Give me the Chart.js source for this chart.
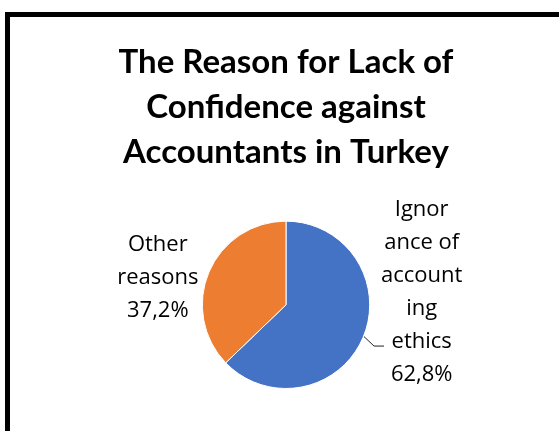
<!DOCTYPE html>
<html>
<head>
<meta charset="utf-8">
<script src="https://cdn.jsdelivr.net/npm/chart.js@4.4.0/dist/chart.umd.min.js"></script>
<style>
  html, body { margin: 0; padding: 0; width: 559px; height: 431px; overflow: hidden; background: #fff; }
  #frame { position: absolute; left: 5px; top: 12px; width: 620px; height: 520px; border: 5px solid #000; box-sizing: border-box; }
  #wrap { position: absolute; left: 0; top: 0; width: 559px; height: 431px; }
</style>
</head>
<body>
<div id="frame"></div>
<div id="wrap"><canvas id="c" width="559" height="431"></canvas></div>
<script>
// ---- data ----
const categories = ["Ignorance of accounting ethics", "Other reasons"];
const values = [62.8, 37.2];
const labelLines = [["Ignor", "ance of", "account", "ing", "ethics"], ["Other", "reasons"]];
const titleLines = ["The Reason for Lack of", "Confidence against", "Accountants in Turkey"];
const colors = ["#4472C4", "#ED7D31"];

function fmtPct(v) { return v.toFixed(1).replace('.', ',') + '%'; }

const labelPlugin = {
  id: 'excelLabels',
  afterDatasetsDraw(chart) {
    const ctx = chart.ctx;
    const meta = chart.getDatasetMeta(0);
    const fontSize = 22, lh = 33;
    ctx.save();
    ctx.font = fontSize + 'px "Open Sans"';
    ctx.fillStyle = '#000';
    ctx.textAlign = 'center';
    ctx.textBaseline = 'alphabetic';
    meta.data.forEach((arc, i) => {
      const p = arc.getProps(['x', 'y', 'startAngle', 'endAngle', 'outerRadius'], true);
      const mid = (p.startAngle + p.endAngle) / 2;
      const ax = p.x + Math.cos(mid) * p.outerRadius;
      const ay = p.y + Math.sin(mid) * p.outerRadius;
      const right = Math.cos(mid) >= 0;
      const lines = labelLines[i].concat([fmtPct(values[i])]);
      const cx = p.x + (right ? (p.outerRadius + 52) : -(p.outerRadius + 44.5));
      const blockMid = ay + (right ? -39.5 : 12);
      const firstBase = blockMid - (lines.length - 1) * lh / 2;
      lines.forEach((t, k) => ctx.fillText(t, cx, firstBase + k * lh));
      if (right) {
        ctx.strokeStyle = '#222';
        ctx.lineWidth = 1;
        ctx.beginPath();
        ctx.moveTo(ax + 1, ay - 1);
        ctx.lineTo(ax + 11, ay + 8.5);
        ctx.lineTo(ax + 21, ay + 8.5);
        ctx.stroke();
      }
    });
    ctx.restore();
  }
};

new Chart(document.getElementById('c'), {
  type: 'pie',
  data: {
    labels: categories,
    datasets: [{
      data: values,
      backgroundColor: colors,
      borderColor: '#fff',
      borderWidth: 1,
      hoverOffset: 0
    }]
  },
  options: {
    responsive: false,
    animation: false,
    events: [],
    layout: { padding: { left: 13, right: 0, top: 0, bottom: 42 } },
    plugins: {
      legend: { display: false },
      tooltip: { enabled: false },
      title: {
        display: true,
        text: titleLines,
        color: '#000',
        font: { family: 'Lato', weight: 'bold', size: 33, lineHeight: 1.37 },
        padding: { top: 39.5, bottom: 45.5 }
      }
    }
  },
  plugins: [labelPlugin]
});
</script>
</body>
</html>
